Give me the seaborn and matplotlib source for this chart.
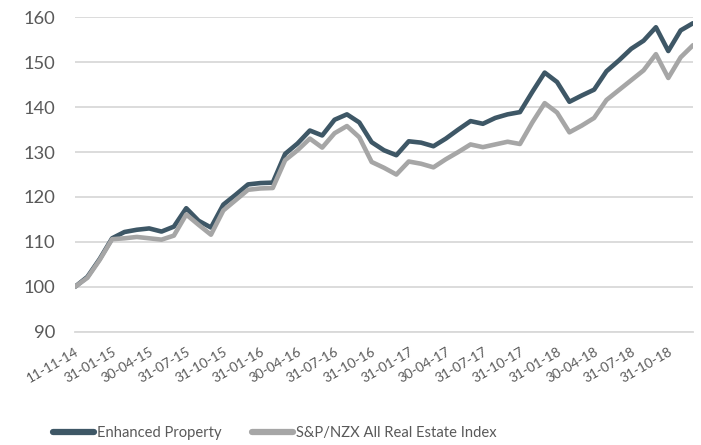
import matplotlib
matplotlib.use("Agg")
import matplotlib.pyplot as plt
import pandas as pd
import seaborn as sns

# monthly index values, 11-11-14 then month ends to 31-12-18
dates = ["11-11-14"] + [d.strftime("%d-%m-%y") for d in pd.date_range("2014-11-30", periods=50, freq="ME")]

enhanced = [100, 102.2, 106.2, 110.8, 112.2, 112.7, 113.0, 112.3, 113.4, 117.5,
            114.7, 113.2, 118.3, 120.5, 122.8, 123.1, 123.2, 129.6, 131.9, 134.8,
            133.7, 137.2, 138.4, 136.6, 132.2, 130.4, 129.3, 132.4, 132.1, 131.3,
            133.0, 135.0, 136.9, 136.3, 137.6, 138.4, 138.9, 143.4, 147.7, 145.6,
            141.2, 142.6, 143.9, 148.0, 150.4, 153.0, 154.8, 157.8, 152.5, 157.1, 158.7]

nzx_index = [100, 102.0, 106.0, 110.6, 110.8, 111.1, 110.8, 110.5, 111.4, 116.1,
             113.8, 111.6, 117.0, 119.3, 121.6, 121.9, 122.0, 128.2, 130.4, 133.0,
             131.0, 134.2, 135.8, 133.3, 127.8, 126.5, 125.0, 127.9, 127.4, 126.6,
             128.4, 130.0, 131.7, 131.1, 131.7, 132.3, 131.8, 136.6, 140.9, 138.8,
             134.4, 135.9, 137.6, 141.6, 143.8, 146.0, 148.2, 151.8, 146.5, 151.1, 153.8]

series_names = ["Enhanced Property", "S&P/NZX All Real Estate Index"]
colors = ["#3E5766", "#A6A6A6"]

df = pd.DataFrame({"pos": range(len(dates)), "date": dates,
                   series_names[0]: enhanced, series_names[1]: nzx_index})
df_long = df.melt(id_vars=["pos", "date"], var_name="series", value_name="value")

sns.set_style("white")
plt.rcParams["font.family"] = ["Lato", "DejaVu Sans"]

fig = plt.figure(figsize=(7.01, 4.45), dpi=100)
ax = fig.add_axes([0.107, 0.2546, 0.8816, 0.7064])

sns.lineplot(data=df_long, x="pos", y="value", hue="series", hue_order=series_names,
             palette=colors, linewidth=3.3, ax=ax, legend=False)

ax.set_xlim(0, len(dates) - 1)
ax.set_ylim(90, 160)
ax.set_yticks(range(90, 161, 10))
ax.grid(axis="y", color="#D9D9D9", linewidth=1.3)
ax.set_axisbelow(True)
for s in ["top", "right", "left"]:
    ax.spines[s].set_visible(False)
ax.spines["bottom"].set_color("#D9D9D9")
ax.spines["bottom"].set_linewidth(1.3)

tick_pos = list(range(0, len(dates), 3))
ax.set_xticks(tick_pos)
ax.set_xticklabels([dates[i] for i in tick_pos], rotation=30, ha="right",
                   rotation_mode="anchor", fontsize=9.8, color="#595959")
ax.tick_params(axis="x", length=5, width=1.3, color="#D9D9D9", pad=5)
ax.tick_params(axis="y", length=0, labelsize=13.2, labelcolor="#595959", pad=14)
ax.set_xlabel("")
ax.set_ylabel("")

handles = [plt.Line2D([], [], color=c, linewidth=4.5, solid_capstyle="round") for c in colors]
fig.legend(handles, series_names, loc="center", bbox_to_anchor=(0.392, 0.027), ncol=2,
           frameon=False, fontsize=10.6, handlelength=2.8, handletextpad=0.2,
           columnspacing=2.1, labelcolor="#595959")

fig.savefig("out.png", dpi=100)
